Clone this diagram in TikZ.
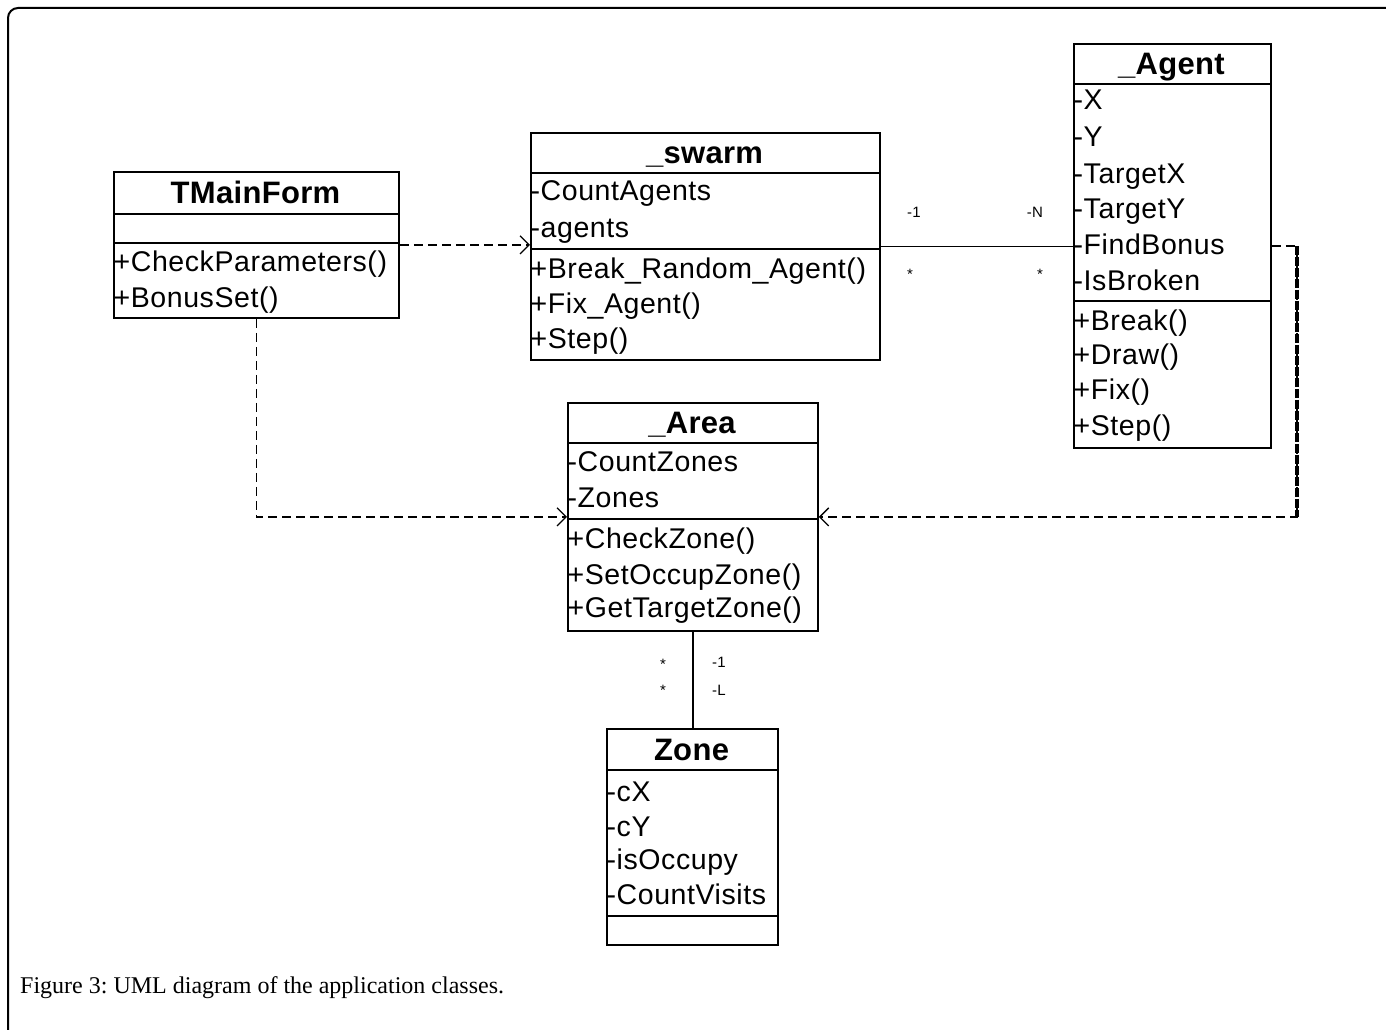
\documentclass[tikz,border=0pt]{standalone}
\usepackage{fontspec}
\setmainfont{Liberation Serif}
\newfontfamily\umlfont[LetterSpace=2.0]{Liberation Sans}
\newfontfamily\umlboldfont[LetterSpace=1.0]{Liberation Sans Bold}
\usetikzlibrary{arrows.meta,calc}
\frenchspacing
\begin{document}
\begin{tikzpicture}[x=1pt,y=-1pt,
  cls/.style={draw, line width=1.8pt, anchor=north west, inner sep=0pt},
  row/.style={anchor=west, inner xsep=0.5pt, inner ysep=0pt, text height=21pt, text depth=0pt, font=\umlfont\fontsize{28.5}{34}\selectfont},
  ttl/.style={anchor=center, inner sep=0pt, text height=22pt, text depth=0pt, font=\umlboldfont\fontsize{31}{36}\selectfont},
  sep/.style={line width=1.8pt},
  dep/.style={line width=1.8pt, dash pattern=on 9pt off 5pt, -{Straight Barb[length=9pt, width=18pt, line width=1.3pt]}},
  thickdash/.style={line width=3.6pt, dash pattern=on 9pt off 2pt},
  assoc/.style={line width=1.8pt},
  mult/.style={inner sep=0pt, text height=10pt, text depth=0pt, font=\umlfont\fontsize{15}{17}\selectfont},
  caption/.style={anchor=base west, inner sep=0pt, font=\fontsize{24}{28}\selectfont}
]
\useasboundingbox (0,0) rectangle (1386,1030);
\draw[line width=2pt, rounded corners=10pt] (8,1030) -- (8,8) -- (1386,8);

% TMainForm
\node[cls, minimum width=285pt, minimum height=146pt] (tmain) at (113,171) {};
\draw[sep] (113,214) -- (398,214);
\draw[sep] (113,243) -- (398,243);
\node[ttl] (tmainT) at (255.5,192.5) {TMainForm};
\node[row] (tm1) at (113,261) {+CheckParameters()};
\node[row] (tm2) at (113,297) {+BonusSet()};

% _swarm
\node[cls, minimum width=349pt, minimum height=227pt] (swarm) at (530,132) {};
\draw[sep] (530,173) -- (879,173);
\draw[sep] (530,249) -- (879,249);
\node[ttl] (swarmT) at (704.5,152.5) {\_swarm};
\node[row] (sw1) at (530,190) {-CountAgents};
\node[row] (sw2) at (530,227) {-agents};
\node[row] (sw3) at (530,268) {+Break\_Random\_Agent()};
\node[row] (sw4) at (530,303) {+Fix\_Agent()};
\node[row] (sw5) at (530,338) {+Step()};

% _Agent
\node[cls, minimum width=197pt, minimum height=404pt] (agent) at (1073,43) {};
\draw[sep] (1073,84) -- (1270,84);
\draw[sep] (1073,301) -- (1270,301);
\node[ttl] (agentT) at (1171.5,63.5) {\_Agent};
\node[row] (ag1) at (1073,99) {-X};
\node[row] (ag2) at (1073,136) {-Y};
\node[row] (ag3) at (1073,173) {-TargetX};
\node[row] (ag4) at (1073,208) {-TargetY};
\node[row] (ag5) at (1073,244) {-FindBonus};
\node[row] (ag6) at (1073,280) {-IsBroken};
\node[row] (ag7) at (1073,320) {+Break()};
\node[row] (ag8) at (1073,354) {+Draw()};
\node[row] (ag9) at (1073,389) {+Fix()};
\node[row] (ag10) at (1073,425) {+Step()};

% _Area
\node[cls, minimum width=250pt, minimum height=228pt] (area) at (567,402) {};
\draw[sep] (567,443) -- (817,443);
\draw[sep] (567,519) -- (817,519);
\node[ttl] (areaT) at (692,422.5) {\_Area};
\node[row] (ar1) at (567,461) {-CountZones};
\node[row] (ar2) at (567,497) {-Zones};
\node[row] (ar3) at (567,538) {+CheckZone()};
\node[row] (ar4) at (567,574) {+SetOccupZone()};
\node[row] (ar5) at (567,607) {+GetTargetZone()};

% Zone
\node[cls, minimum width=171pt, minimum height=216pt] (zone) at (606,728) {};
\draw[sep] (606,770) -- (777,770);
\draw[sep] (606,916) -- (777,916);
\node[ttl] (zoneT) at (691.5,749) {Zone};
\node[row] (zn1) at (606,791) {-cX};
\node[row] (zn2) at (606,826) {-cY};
\node[row] (zn3) at (606,859) {-isOccupy};
\node[row] (zn4) at (606,894) {-CountVisits};

% connectors
\draw[dep] (tmain.east) -- (tmain.east -| swarm.west);
\draw[assoc] (swarm.east) -- (swarm.east -| agent.west);
\coordinate (bendA) at ($(agent.east)+(25,0)$);
\coordinate (bendB) at (bendA |- area.east);
\draw[dep] (agent.east) -- (bendA) -- (bendB) -- (area.east);
\draw[thickdash] (bendA) -- (bendB);
\draw[dep] (tmain.south) |- (area.west);
\draw[assoc] (area.south) -- (area.south |- zone.north);

% multiplicities
\node[mult] (m1) at (914,212) {-1};
\node[mult] (m2) at (1035,212) {-N};
\node[mult] (m3) at (910,274) {*};
\node[mult] (m4) at (1040,274) {*};
\node[mult] (m5) at (663,664) {*};
\node[mult] (m6) at (663,690) {*};
\node[mult] (m7) at (719,662) {-1};
\node[mult] (m8) at (719,690) {-L};

% caption
\node[caption] (cap) at (20,993) {Figure 3: UML diagram of the application classes.};
\end{tikzpicture}
\end{document}
